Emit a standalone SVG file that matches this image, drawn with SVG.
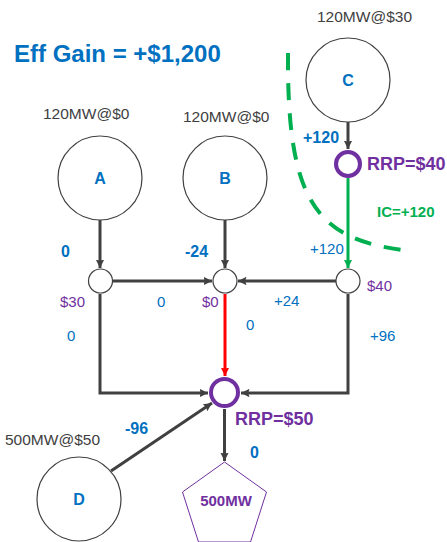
<svg xmlns="http://www.w3.org/2000/svg" width="447" height="542" viewBox="0 0 447 542">
  <style>
    text { font-family: "Liberation Sans", Arial, sans-serif; }
    .big { fill: #fff; stroke: #404040; stroke-width: 1.2; }
    .junc { fill: #fff; stroke: #404040; stroke-width: 1.2; }
    .rrp { fill: #fff; stroke: #7030A0; stroke-width: 4; }
    .name { font-size: 16px; font-weight: bold; fill: #0070C0; text-anchor: middle; }
    .cap { font-size: 15.5px; fill: #404040; }
    .flowb { font-size: 16px; font-weight: bold; fill: #0070C0; }
    .flow { font-size: 15px; fill: #0070C0; }
    .price { font-size: 15px; fill: #7030A0; }
    .rrpl { font-size: 18px; font-weight: bold; fill: #7030A0; }
    .wire { fill: none; stroke: #404040; stroke-width: 3; marker-end: url(#ah); }
  </style>
  <defs>
    <marker id="ah" markerUnits="userSpaceOnUse" viewBox="0 0 10 10" refX="10" refY="5" markerWidth="8.5" markerHeight="8.5" orient="auto">
      <path d="M0,0 L10,5 L0,10 L1.5,5 z" fill="#404040"/>
    </marker>
    <marker id="ahr" markerUnits="userSpaceOnUse" viewBox="0 0 10 10" refX="10" refY="5" markerWidth="8.5" markerHeight="8.5" orient="auto">
      <path d="M0,0 L10,5 L0,10 L1.5,5 z" fill="#FF0000"/>
    </marker>
    <marker id="ahg" markerUnits="userSpaceOnUse" viewBox="0 0 10 10" refX="10" refY="5" markerWidth="8.5" markerHeight="8.5" orient="auto">
      <path d="M0,0 L10,5 L0,10 L1.5,5 z" fill="#00B050"/>
    </marker>
  </defs>

  <rect width="447" height="542" fill="#fff"/>

  <text x="14" y="62" font-size="24" font-weight="bold" fill="#0070C0">Eff Gain = +$1,200</text>

  <!-- region boundary -->
  <path d="M288,53 C287,200 315,238 402,250" fill="none" stroke="#00B050" stroke-width="4" stroke-dasharray="17 13"/>

  <g id="connectors">
    <line class="wire" x1="348" y1="122" x2="348" y2="149"/>
    <line x1="348" y1="178" x2="348" y2="268" stroke="#00B050" stroke-width="3" marker-end="url(#ahg)"/>
    <line class="wire" x1="100" y1="220" x2="100" y2="268"/>
    <line class="wire" x1="225" y1="220" x2="225" y2="268"/>
    <line class="wire" x1="113" y1="281" x2="212" y2="281"/>
    <line class="wire" x1="336" y1="281" x2="238" y2="281"/>
    <line x1="225" y1="294" x2="225" y2="376" stroke="#FF0000" stroke-width="3" marker-end="url(#ahr)"/>
    <polyline class="wire" points="100,294 100,393 208,393"/>
    <polyline class="wire" points="348,294 348,393 241,393"/>
    <line class="wire" x1="111" y1="471" x2="212" y2="403"/>
    <line class="wire" x1="224.5" y1="409" x2="224.5" y2="461"/>
  </g>

  <g id="node-a">
    <circle class="big" cx="100" cy="178" r="42"/>
    <text class="name" x="100" y="184">A</text>
    <text class="cap" x="43" y="119">120MW@$0</text>
  </g>
  <g id="node-b">
    <circle class="big" cx="225" cy="178" r="42"/>
    <text class="name" x="225" y="184">B</text>
    <text class="cap" x="183" y="122">120MW@$0</text>
  </g>
  <g id="node-c">
    <circle class="big" cx="348" cy="80" r="42"/>
    <text class="name" x="348" y="86">C</text>
    <text class="cap" x="317" y="22">120MW@$30</text>
  </g>
  <g id="node-d">
    <circle class="big" cx="79" cy="499" r="42"/>
    <text class="name" x="79" y="505">D</text>
    <text class="cap" x="5" y="445">500MW@$50</text>
  </g>

  <g id="rrp-40">
    <circle class="rrp" cx="348" cy="164" r="12"/>
    <text class="rrpl" x="367" y="170">RRP=$40</text>
  </g>
  <g id="junction-left">
    <circle class="junc" cx="100.5" cy="281" r="12"/>
    <text class="price" x="60" y="307">$30</text>
  </g>
  <g id="junction-mid">
    <circle class="junc" cx="225" cy="281" r="12"/>
    <text class="price" x="202" y="307">$0</text>
  </g>
  <g id="junction-right">
    <circle class="junc" cx="348" cy="281" r="12"/>
    <text class="price" x="367" y="291">$40</text>
  </g>
  <g id="rrp-50">
    <circle class="rrp" cx="224.5" cy="392.5" r="13.5"/>
    <text class="rrpl" x="235" y="425">RRP=$50</text>
  </g>
  <g id="load">
    <polygon points="224.5,462 266.5,492 250.5,542 198.5,542 182.5,492" fill="#fff" stroke="#7030A0" stroke-width="1"/>
    <text x="226" y="506" font-size="15" font-weight="bold" fill="#7030A0" text-anchor="middle">500MW</text>
  </g>

  <g id="flow-labels">
    <text class="flowb" x="303" y="143">+120</text>
    <text x="377" y="217" font-size="15" font-weight="bold" fill="#00B050">IC=+120</text>
    <text class="flowb" x="61" y="257">0</text>
    <text class="flowb" x="185" y="257">-24</text>
    <text class="flow" x="310" y="254">+120</text>
    <text class="flow" x="157" y="307">0</text>
    <text class="flow" x="274" y="306">+24</text>
    <text class="flow" x="246" y="330">0</text>
    <text class="flow" x="67" y="341">0</text>
    <text class="flow" x="370" y="341">+96</text>
    <text class="flowb" x="125" y="434">-96</text>
    <text class="flowb" x="250" y="458">0</text>
  </g>
</svg>
